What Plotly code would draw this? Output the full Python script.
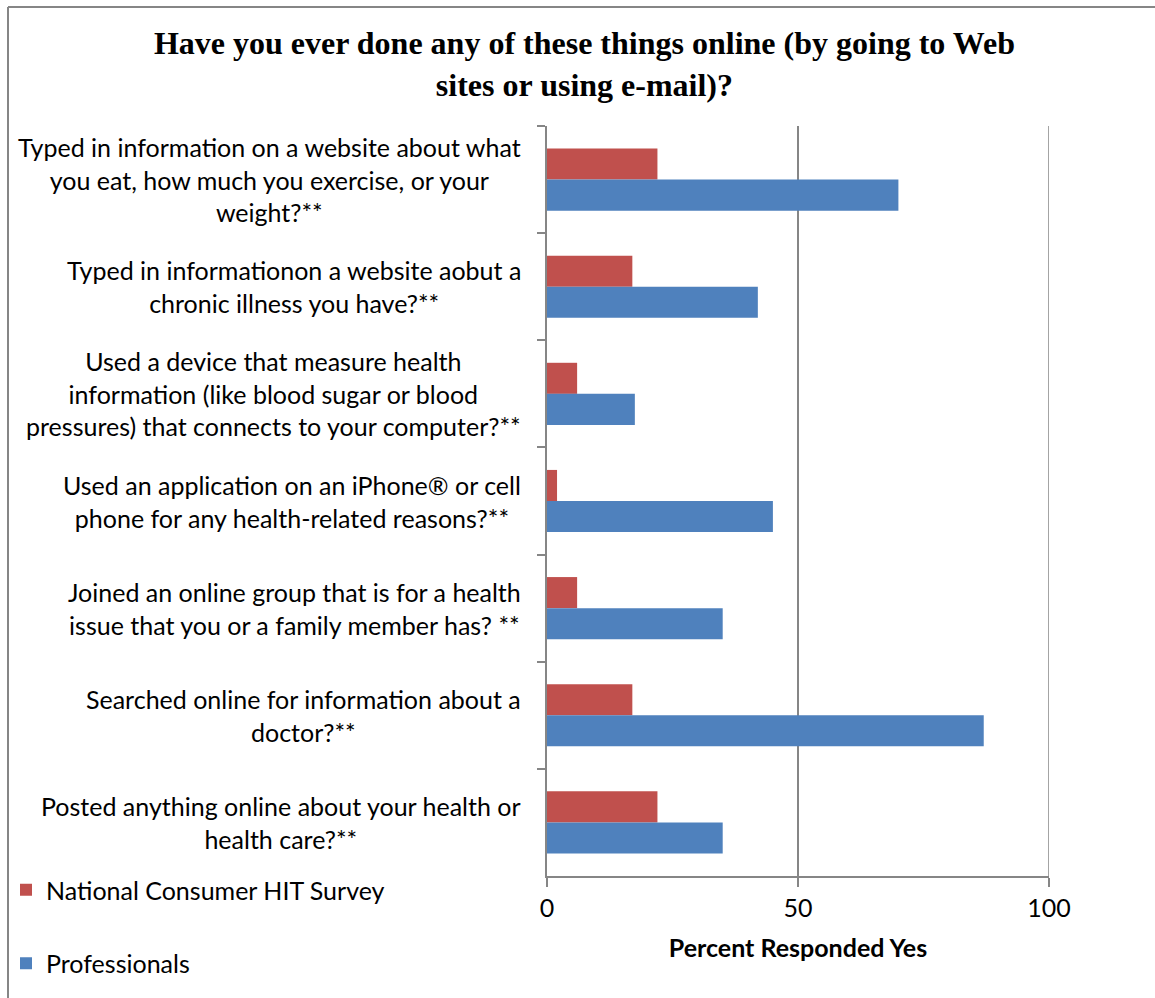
import plotly.graph_objects as go

categories = [
    "Typed in information on a website about what<br>you eat, how much you exercise, or your<br>weight?**",
    "Typed in informationon a website aobut a<br>chronic illness you have?**",
    "Used a device that measure health<br>information (like blood sugar or blood<br>pressures) that connects to your computer?**",
    "Used an application on an iPhone® or cell<br>phone for any health-related reasons?**",
    "Joined an online group that is for a health<br>issue that you or a family member has? **",
    "Searched online for information about a<br>doctor?**",
    "Posted anything online about your health or<br>health care?**",
]
national = [22, 17, 6, 2, 6, 17, 22]
professionals = [70, 42, 17.5, 45, 35, 87, 35]
x_ticks = [0, 50, 100]

FONT = "Lato, 'Liberation Sans', sans-serif"
GRAY = "#868686"
FS = 25

fig = go.Figure()
fig.add_trace(go.Bar(y=categories, x=national, orientation="h",
                     name="National Consumer HIT Survey", legendgroup="a",
                     marker=dict(color="#C0504D", line=dict(width=0))))
fig.add_trace(go.Bar(y=categories, x=professionals, orientation="h",
                     name="Professionals", legendgroup="b",
                     marker=dict(color="#4F81BD", line=dict(width=0))))

for c in categories:
    fig.add_annotation(x=0, xref="paper", y=c, yref="y", text=c,
                       xanchor="right", yanchor="middle", align="center",
                       xshift=-24, showarrow=False,
                       font=dict(family=FONT, size=FS, color="#000000"))

fig.update_layout(
    width=1155, height=998,
    margin=dict(l=547, r=106, t=126, b=122, autoexpand=False),
    paper_bgcolor="white", plot_bgcolor="white",
    barmode="group", bargap=0.42, bargroupgap=0,
    showlegend=True,
    font=dict(family=FONT, size=FS, color="#000000"),
    title=dict(text="<b>Have you ever done any of these things online (by going to Web<br>sites or using e-mail)?</b>",
               x=0.506, xanchor="center", y=1 - 54 / 998, yanchor="middle",
               yref="container",
               font=dict(family="'Liberation Serif', 'Times New Roman', serif", size=32, color="#000000")),
    xaxis=dict(range=[0, 100], tickvals=x_ticks, showgrid=True, gridcolor=GRAY, gridwidth=1.5,
               zeroline=False, showline=True, linecolor=GRAY, linewidth=2,
               ticks="outside", ticklen=9, tickcolor=GRAY, tickwidth=2,
               automargin=False,
               tickfont=dict(family=FONT, size=FS, color="#000000"),
               title=dict(text="<b>Percent Responded Yes</b>", standoff=18,
                          font=dict(family=FONT, size=FS, color="#000000"))),
    yaxis=dict(type="category", autorange="reversed", showline=True, linecolor=GRAY, linewidth=2,
               ticks="outside", tickson="boundaries", ticklen=8, tickcolor=GRAY, tickwidth=2,
               automargin=False,
               showticklabels=False, showgrid=False, zeroline=False),
    legend=dict(x=(6 - 547) / 502, xanchor="left", y=(876 - 867) / 750, yanchor="top",
                traceorder="grouped", tracegroupgap=38,
                font=dict(family=FONT, size=FS, color="#000000"), bgcolor="rgba(0,0,0,0)"),
    shapes=[
        dict(type="line", xref="x", yref="paper", x0=100, x1=100, y0=0, y1=1,
             line=dict(color=GRAY, width=1.5), layer="below"),
        dict(type="line", xref="paper", yref="paper",
             x0=(8 - 547) / 502, x1=(8 - 547) / 502, y0=(876 - 7) / 750, y1=(876 - 1010) / 750,
             line=dict(color=GRAY, width=2)),
        dict(type="line", xref="paper", yref="paper",
             x0=(8 - 547) / 502, x1=(1170 - 547) / 502, y0=(876 - 7) / 750, y1=(876 - 7) / 750,
             line=dict(color=GRAY, width=2)),
    ],
)

fig.write_html("out.html")
